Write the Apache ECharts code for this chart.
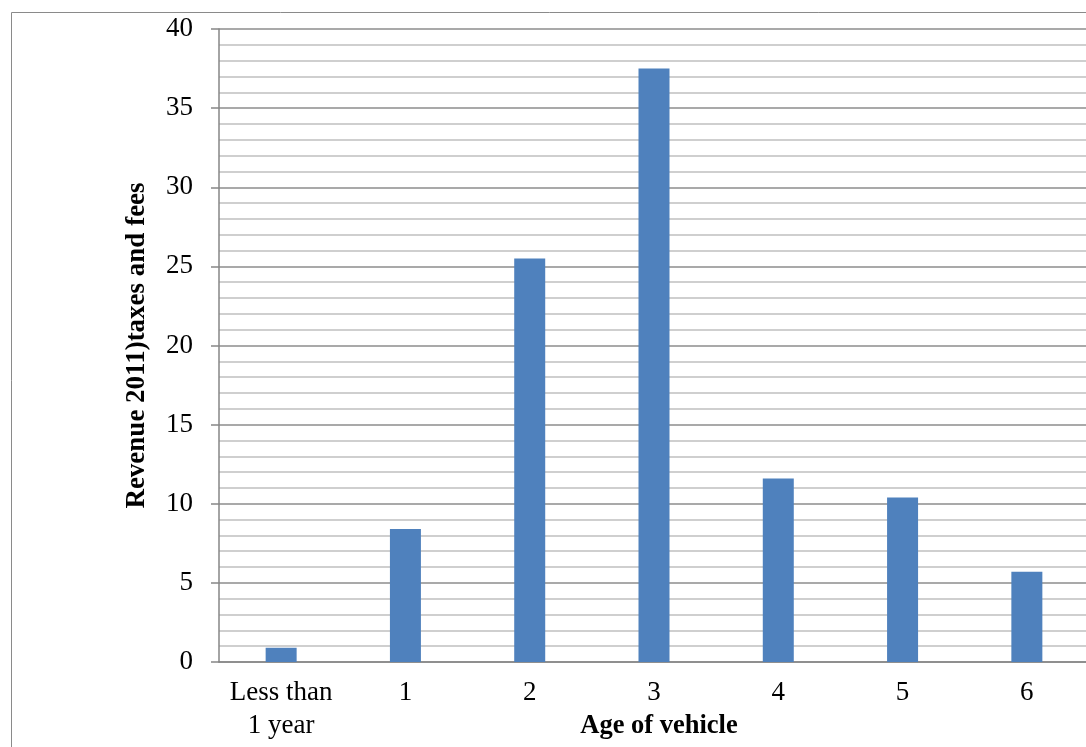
<!DOCTYPE html>
<html>
<head>
<meta charset="utf-8">
<style>
  html, body { margin: 0; padding: 0; background: #ffffff; }
  #chart { width: 1086px; height: 747px; }
</style>
<script src="https://cdn.jsdelivr.net/npm/echarts@6/dist/echarts.min.js"></script>
</head>
<body>
<div id="chart"></div>
<script>
// Vehicle-age categories and revenue per category
const categories = ['Less than\n1 year', '1', '2', '3', '4', '5', '6'];
const revenue = [0.9, 8.4, 25.5, 37.5, 11.6, 10.4, 5.7];
const yTicks = { min: 0, max: 40, interval: 5 };

const serif = '"Liberation Serif", "Times New Roman", serif';
const chart = echarts.init(document.getElementById('chart'));

chart.setOption({
  animation: false,
  backgroundColor: '#ffffff',
  graphic: [{
    type: 'rect',
    shape: { x: 11.5, y: 12.5, width: 1200, height: 1000 },
    style: { fill: 'none', stroke: '#8a8a8a', lineWidth: 1 },
    silent: true
  }],
  grid: {
    left: 219, top: 29, width: 870, height: 633,
    containLabel: false, outerBoundsMode: 'none'
  },
  xAxis: {
    type: 'category',
    data: categories,
    name: 'Age of vehicle',
    nameLocation: 'middle',
    nameGap: 51,
    nameMoveOverlap: false,
    nameTextStyle: { fontFamily: serif, fontSize: 26.5, fontWeight: 'bold', color: '#000', padding: [0, 0, 0, 10] },
    axisLine: { show: true, lineStyle: { color: '#868686', width: 1.5 } },
    axisTick: { show: false },
    axisLabel: {
      fontFamily: serif, fontSize: 27, color: '#000',
      lineHeight: 33, margin: 14, interval: 0
    },
    splitLine: { show: false }
  },
  yAxis: {
    type: 'value',
    min: yTicks.min,
    max: yTicks.max,
    interval: yTicks.interval,
    name: 'Revenue 2011)taxes and fees',
    nameLocation: 'middle',
    nameGap: 68,
    nameRotate: 90,
    nameMoveOverlap: false,
    nameTextStyle: { fontFamily: serif, fontSize: 27, fontWeight: 'bold', color: '#000' },
    axisLine: { show: true, lineStyle: { color: '#868686', width: 1.5 } },
    axisTick: { show: true, length: 8, lineStyle: { color: '#868686', width: 1.5 } },
    axisLabel: { fontFamily: serif, fontSize: 27, color: '#000', margin: 26 },
    splitLine: { show: true, lineStyle: { color: '#8c8c8c', width: 1.5 } },
    minorTick: { show: false, splitNumber: 5 },
    minorSplitLine: { show: true, lineStyle: { color: '#c0c0c0', width: 1.5 } }
  },
  series: [{
    type: 'bar',
    data: revenue,
    barWidth: 31,
    itemStyle: { color: '#4f81bd' }
  }]
});
</script>
</body>
</html>
